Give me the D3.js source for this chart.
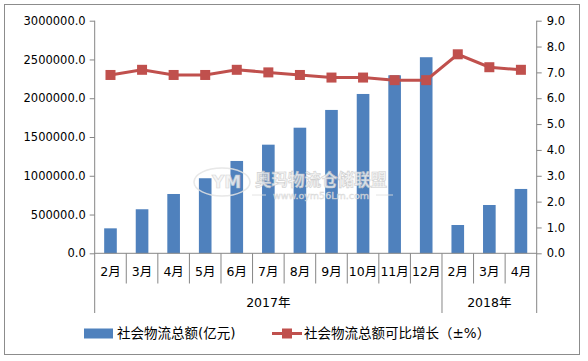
<!DOCTYPE html>
<html>
<head>
<meta charset="utf-8">
<script src="https://cdn.jsdelivr.net/npm/d3@7"></script>
<style>
  body { margin: 0; background: #fff; }
  svg { display: block; }
</style>
</head>
<body>
<div id="chart"></div>
<script>
// data
var months = ["2月","3月","4月","5月","6月","7月","8月","9月","10月","11月","12月","2月","3月","4月"];
var years = [{label: "2017年", from: 0, to: 10}, {label: "2018年", from: 11, to: 13}];
var totals = [322000, 568000, 765000, 968000, 1191000, 1401000, 1620000, 1849000, 2055000, 2296000, 2529000, 365000, 623000, 830000];
var growth = [6.9, 7.1, 6.9, 6.9, 7.1, 7.0, 6.9, 6.8, 6.8, 6.7, 6.7, 7.7, 7.2, 7.1];
var leftTicks = [0, 500000, 1000000, 1500000, 2000000, 2500000, 3000000];
var rightTicks = [0, 1, 2, 3, 4, 5, 6, 7, 8, 9];
var barName = "社会物流总额(亿元)";
var lineName = "社会物流总额可比增长（±%）";

var W = 588, H = 361;
var plotL = 94.7, plotR = 536.7, plotT = 20.7, plotB = 253.3;
var axisColor = "#868686";
var numFont = '"DejaVu Sans", Verdana, sans-serif';
var cjkFont = '"DejaVu Sans", "Noto Sans CJK SC", sans-serif';

var svg = d3.select("#chart").append("svg")
  .attr("width", W)
  .attr("height", H);

// outer frame
svg.append("rect")
  .attr("x", 4.5).attr("y", 4.5)
  .attr("width", 575).attr("height", 350)
  .attr("fill", "#fff")
  .attr("stroke", "#8c8c8c")
  .attr("stroke-width", 1);

var x = d3.scaleBand()
  .domain(d3.range(months.length))
  .range([plotL, plotR])
  .paddingInner(0.6)
  .paddingOuter(0.3);

var yL = d3.scaleLinear().domain([0, 3000000]).range([plotB, plotT]);
var yR = d3.scaleLinear().domain([0, 9]).range([plotB, plotT]);

// bars
svg.append("g")
  .selectAll("rect")
  .data(totals)
  .enter()
  .append("rect")
    .attr("x", function(d, i){ return x(i) })
    .attr("y", function(d){ return yL(d) })
    .attr("width", x.bandwidth())
    .attr("height", function(d){ return plotB - yL(d) })
    .attr("fill", "#4f81bd");

// watermark
var wm = svg.append("g").attr("opacity", 0.85);
wm.append("ellipse")
  .attr("cx", 222).attr("cy", 182).attr("rx", 28).attr("ry", 14)
  .attr("fill", "none").attr("stroke", "#e4e4e4").attr("stroke-width", 1.5);
wm.append("text")
  .attr("x", 212).attr("y", 188)
  .attr("font-family", numFont).attr("font-weight", "bold").attr("font-size", 17)
  .attr("fill", "#f4f4f4").attr("stroke", "#d0d0d0").attr("stroke-width", 0.6)
  .text("YM");
wm.append("text")
  .attr("x", 255).attr("y", 186)
  .attr("font-family", '"Noto Sans CJK SC", sans-serif').attr("font-weight", "bold").attr("font-size", 16.5)
  .attr("fill", "#f4f4f4").attr("stroke", "#c8c8c8").attr("stroke-width", 0.6)
  .text("奥玛物流仓储联盟");
wm.append("text")
  .attr("x", 321).attr("y", 199)
  .attr("text-anchor", "middle")
  .attr("font-family", numFont).attr("font-size", 9.5)
  .attr("fill", "#f2f2f2").attr("stroke", "#d0d0d0").attr("stroke-width", 0.4)
  .text("www.oym56Lm.com");
wm.append("line").attr("x1", 252).attr("x2", 266).attr("y1", 195).attr("y2", 195).attr("stroke", "#e0e0e0");
wm.append("line").attr("x1", 376).attr("x2", 393).attr("y1", 195).attr("y2", 195).attr("stroke", "#e0e0e0");

// line + markers
var line = d3.line()
  .x(function(d, i){ return x(i) + x.bandwidth() / 2 })
  .y(function(d){ return yR(d) });

svg.append("path")
  .datum(growth)
  .attr("d", line)
  .attr("fill", "none")
  .attr("stroke", "#c0504d")
  .attr("stroke-width", 3);

svg.append("g")
  .selectAll("rect")
  .data(growth)
  .enter()
  .append("rect")
    .attr("x", function(d, i){ return x(i) + x.bandwidth() / 2 - 5 })
    .attr("y", function(d){ return yR(d) - 5 })
    .attr("width", 10)
    .attr("height", 10)
    .attr("fill", "#c0504d");

// left axis
var gL = svg.append("g")
  .attr("transform", "translate(" + plotL + ",0)")
  .call(d3.axisLeft(yL).tickValues(leftTicks).tickSize(5).tickPadding(4)
    .tickFormat(function(d){ return d3.format(".1f")(d) }));
gL.select(".domain").remove();
gL.selectAll("line").attr("stroke", axisColor);
gL.selectAll("text")
  .attr("font-family", numFont).attr("font-size", 11.5).attr("fill", "#000");

// right axis
var gR = svg.append("g")
  .attr("transform", "translate(" + plotR + ",0)")
  .call(d3.axisRight(yR).tickValues(rightTicks).tickSize(5).tickPadding(5)
    .tickFormat(d3.format(".1f")));
gR.select(".domain").remove();
gR.selectAll("line").attr("stroke", axisColor);
gR.selectAll("text")
  .attr("font-family", numFont).attr("font-size", 11.5).attr("fill", "#000");

// axis lines
var step = x.step();
svg.append("line").attr("x1", plotL).attr("x2", plotL).attr("y1", plotT).attr("y2", 313)
  .attr("stroke", axisColor);
svg.append("line").attr("x1", plotR).attr("x2", plotR).attr("y1", plotT).attr("y2", 313)
  .attr("stroke", axisColor);
svg.append("line").attr("x1", plotL).attr("x2", plotR).attr("y1", plotB).attr("y2", plotB)
  .attr("stroke", axisColor);

// category separators
svg.append("g")
  .selectAll("line")
  .data(d3.range(1, months.length))
  .enter()
  .append("line")
    .attr("x1", function(i){ return plotL + i * step })
    .attr("x2", function(i){ return plotL + i * step })
    .attr("y1", plotB)
    .attr("y2", function(i){ return i === years[1].from ? 313 : 283.5 })
    .attr("stroke", axisColor);

// month labels
svg.append("g")
  .selectAll("text")
  .data(months)
  .enter()
  .append("text")
    .attr("x", function(d, i){ return x(i) + x.bandwidth() / 2 })
    .attr("y", 276)
    .attr("text-anchor", "middle")
    .attr("font-family", cjkFont)
    .attr("font-size", 12.5)
    .text(function(d){ return d });

// year labels
svg.append("g")
  .selectAll("text")
  .data(years)
  .enter()
  .append("text")
    .attr("x", function(d){ return (plotL + d.from * step + plotL + (d.to + 1) * step) / 2 })
    .attr("y", 307)
    .attr("text-anchor", "middle")
    .attr("font-family", cjkFont)
    .attr("font-size", 12.5)
    .text(function(d){ return d.label });

// legend
var lg = svg.append("g");
lg.append("rect")
  .attr("x", 84).attr("y", 328.5).attr("width", 29).attr("height", 10)
  .attr("fill", "#4f81bd");
lg.append("text")
  .attr("x", 117).attr("y", 338)
  .attr("font-family", cjkFont).attr("font-size", 13.5)
  .text(barName);
lg.append("line")
  .attr("x1", 272).attr("x2", 302).attr("y1", 333.5).attr("y2", 333.5)
  .attr("stroke", "#c0504d").attr("stroke-width", 3);
lg.append("rect")
  .attr("x", 282).attr("y", 328.5).attr("width", 10).attr("height", 10)
  .attr("fill", "#c0504d");
lg.append("text")
  .attr("x", 304).attr("y", 338)
  .attr("font-family", cjkFont).attr("font-size", 13.5)
  .text(lineName);
</script>
</body>
</html>
